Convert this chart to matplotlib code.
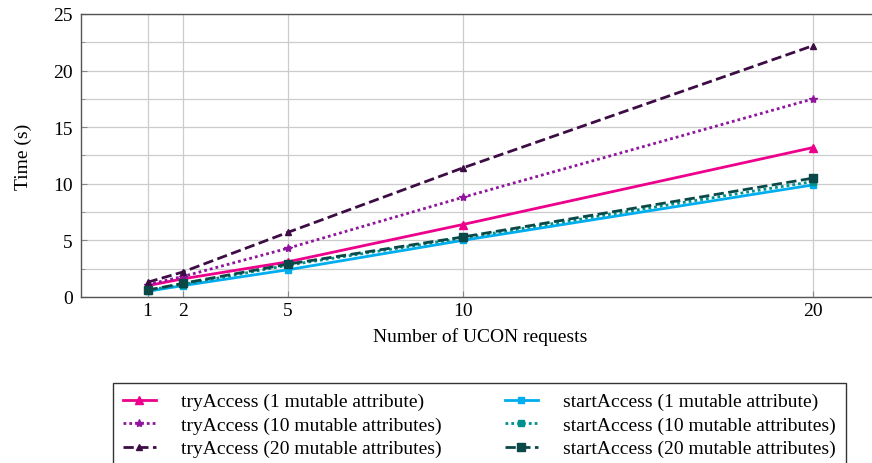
import matplotlib
matplotlib.use("Agg")
import matplotlib.pyplot as plt
from matplotlib.ticker import MultipleLocator

plt.rcParams['font.family'] = ['Liberation Serif', 'DejaVu Serif']

requests = [1, 2, 5, 10, 20]

try_1 = [1.0, 1.6, 3.1, 6.4, 13.2]
try_10 = [1.1, 1.8, 4.3, 8.8, 17.5]
try_20 = [1.3, 2.2, 5.7, 11.4, 22.2]
start_1 = [0.5, 1.0, 2.4, 5.0, 9.9]
start_10 = [0.6, 1.1, 2.8, 5.2, 10.2]
start_20 = [0.6, 1.2, 2.9, 5.3, 10.5]

labels = ["tryAccess (1 mutable attribute)",
          "tryAccess (10 mutable attributes)",
          "tryAccess (20 mutable attributes)",
          "startAccess (1 mutable attribute)",
          "startAccess (10 mutable attributes)",
          "startAccess (20 mutable attributes)"]

fig = plt.figure(figsize=(8.72, 4.64), dpi=100)
ax = fig.add_axes([0.0929, 0.3578, 0.9157, 0.6099])

lw = 2.0
dots = (0, (1, 1.1))
ax.plot(requests, try_1, "-", color="#ec008c", lw=lw, marker="^", ms=5.5, label=labels[0])
ax.plot(requests, try_10, linestyle=dots, color="#8f159c", lw=lw, marker="*", ms=6, label=labels[1])
ax.plot(requests, try_20, "--", color="#3d0c45", lw=lw, marker="^", ms=5, label=labels[2])
ax.plot(requests, start_1, "-", color="#00aeef", lw=lw, marker="s", ms=5, label=labels[3])
ax.plot(requests, start_10, linestyle=dots, color="#00918f", lw=lw, marker="s", ms=5, label=labels[4])
ax.plot(requests, start_20, "--", color="#0b4848", lw=lw, marker="s", ms=6, label=labels[5])

ax.set_xlim(-0.9, 21.9)
ax.set_ylim(0, 25)
ax.set_xticks(requests)
ax.yaxis.set_major_locator(MultipleLocator(5))
ax.yaxis.set_minor_locator(MultipleLocator(2.5))
ax.grid(True, which="both", color="#cccccc", lw=0.9)
ax.set_axisbelow(True)
ax.tick_params(which="both", direction="in", length=4, color="#888888", labelsize=14)
ax.tick_params(which="minor", length=3)
ax.tick_params(axis="y", pad=6)
for s in ax.spines.values():
    s.set_color("#555555")
    s.set_linewidth(1.0)

ax.set_xlabel("Number of UCON requests", fontsize=14, labelpad=6)
ax.set_ylabel("Time (s)", fontsize=14, labelpad=15)

fig.legend(loc="upper left", bbox_to_anchor=(113 / 872, 1 - 384 / 464), ncol=2,
           fontsize=14, frameon=True, fancybox=False, edgecolor="black",
           handlelength=1.7, handletextpad=1.3, columnspacing=3.25,
           labelspacing=0.3, borderpad=0.5, borderaxespad=0)

fig.savefig("out.png", dpi=100)
